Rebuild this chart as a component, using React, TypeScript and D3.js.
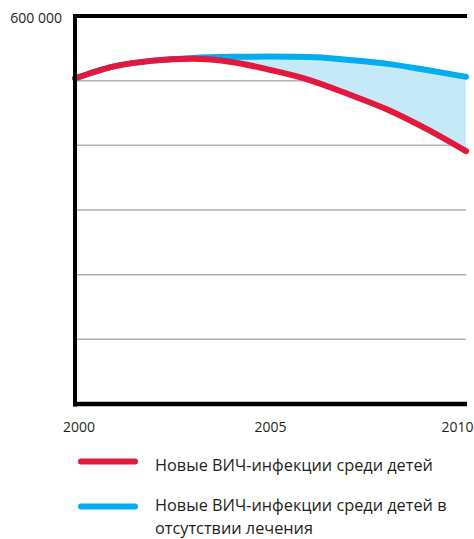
import React from "react";
import * as d3 from "d3";

const years = [2000, 2001, 2002, 2003, 2004, 2005, 2006, 2007, 2008, 2009, 2010];
const withTreatment = [503500, 522000, 531000, 533800, 529000, 516500, 501000, 479000, 455000, 425000, 391000];
const withoutTreatment = [503500, 522000, 531000, 535200, 536800, 537200, 536600, 532000, 526000, 516500, 506000];
const yGrid = [100000, 200000, 300000, 400000, 500000];
const xTicks = [2000, 2005, 2010];
const yTopLabel = "600 000";
const legendRed = ["Новые ВИЧ-инфекции среди детей"];
const legendBlue = ["Новые ВИЧ-инфекции среди детей в", "отсутствии лечения"];

const RED = "#e2183d";
const BLUE = "#00aeef";
const FILL = "#c6e9f8";
const GRID = "#b0b0b0";
const TEXT = "#231f20";
const FONT = "'Open Sans', 'Noto Sans', sans-serif";

export default function App() {
  const W = 474;
  const H = 539;
  const x = d3.scaleLinear().domain([2000, 2010]).range([75, 466]);
  const y = d3.scaleLinear().domain([0, 600000]).range([404, 16]);

  const curve = d3.curveMonotoneX;
  const line = d3
    .line<number>()
    .x((_, i) => x(years[i]))
    .y((d) => y(d))
    .curve(curve);
  const area = d3
    .area<number>()
    .x((_, i) => x(years[i]))
    .y0((_, i) => y(withTreatment[i]))
    .y1((d) => y(d))
    .curve(curve);

  const labelOffset = (yr: number) => (yr === 2000 ? 4 : yr === 2010 ? -8.5 : 0);

  return (
    <svg
      width={W}
      height={H}
      style={{ position: "absolute", left: 0, top: 0, display: "block", background: "#fff" }}
      fontFamily={FONT}
    >
      {yGrid.map((v) => (
        <line key={v} x1={x(2000)} x2={x(2010)} y1={y(v)} y2={y(v)} stroke={GRID} strokeWidth={1.5} />
      ))}
      <path d={area(withoutTreatment) || ""} fill={FILL} />
      <path d={line(withoutTreatment) || ""} fill="none" stroke={BLUE} strokeWidth={6} strokeLinecap="round" />
      <path d={line(withTreatment) || ""} fill="none" stroke={RED} strokeWidth={6} strokeLinecap="round" />

      {/* frame */}
      <line x1={x(2000)} x2={x(2000)} y1={y(600000) - 2} y2={y(0) + 2.5} stroke="#000" strokeWidth={4} />
      <line x1={x(2000) - 2} x2={x(2010) + 1} y1={y(600000)} y2={y(600000)} stroke="#000" strokeWidth={4} />
      <line x1={x(2000) - 2} x2={x(2010) + 1} y1={y(0)} y2={y(0)} stroke="#000" strokeWidth={4.5} />

      <text x={x(2000) - 13} y={y(600000) + 7} textAnchor="end" fontSize={14} fill={TEXT}>
        {yTopLabel}
      </text>
      {xTicks.map((t) => (
        <text key={t} x={x(t) + labelOffset(t)} y={431.5} textAnchor="middle" fontSize={14} fill={TEXT}>
          {t}
        </text>
      ))}

      {/* legend */}
      <line x1={81} x2={135} y1={461.5} y2={461.5} stroke={RED} strokeWidth={6} strokeLinecap="round" />
      <line x1={81} x2={135} y1={506.5} y2={506.5} stroke={BLUE} strokeWidth={6} strokeLinecap="round" />
      {legendRed.map((s, i) => (
        <text key={s} x={155} y={470.5 + i * 23.5} fontSize={16.3} fill={TEXT}>
          {s}
        </text>
      ))}
      {legendBlue.map((s, i) => (
        <text key={s} x={155} y={510.5 + i * 23.5} fontSize={16.3} fill={TEXT}>
          {s}
        </text>
      ))}
    </svg>
  );
}
